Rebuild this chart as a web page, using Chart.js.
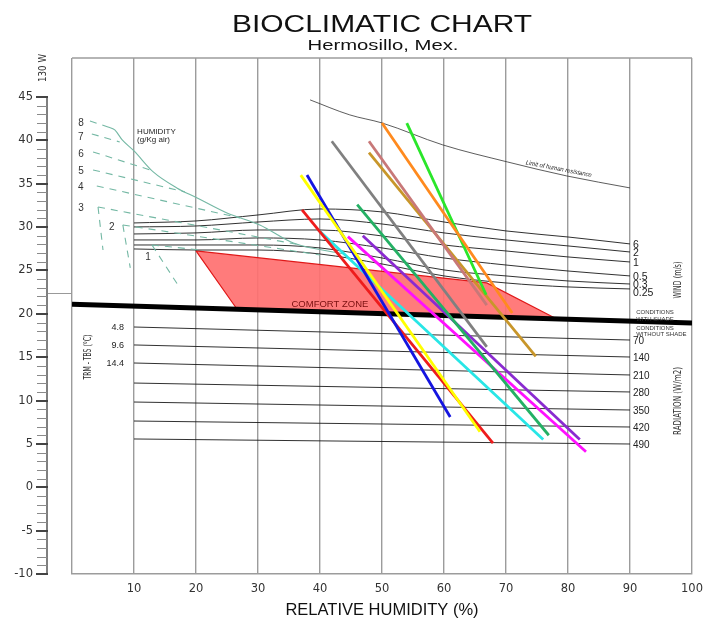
<!DOCTYPE html>
<html>
<head>
<meta charset="utf-8">
<title>Bioclimatic chart - Hermosillo</title>
<script src="https://cdn.jsdelivr.net/npm/chart.js@4.4.1/dist/chart.umd.min.js"></script>
<style>
  html, body { margin: 0; padding: 0; background: #fff; }
  canvas { display: block; }
</style>
</head>
<body>
<canvas id="bioChart" width="703" height="621"></canvas>
<script>
// ---- values ----
const rhTicks = [10, 20, 30, 40, 50, 60, 70, 80, 90, 100];
const tempTicks = [-10, -5, 0, 5, 10, 15, 20, 25, 30, 35, 40, 45];
const tempMarker = 22.4;

// comfort zone (RH %, T C)
const comfortRH = [20.0, 66.9, 78.2, 26.6, 20.0];
const comfortT  = [27.25, 23.56, 19.41, 20.56, 27.25];

// shade / no shade divider
const shadeRH = [0, 100];
const shadeT  = [21.1, 18.95];

// wind (m/s)
const windLabels = ['6', '2', '1', '0.5', '0.3', '0.25'];
const windRH = [10, 20, 30, 40, 50, 60, 70, 80, 90];
const windT = [
  [30.48, 30.71, 31.40, 32.09, 31.75, 30.59, 29.56, 28.86, 28.06],
  [30.02, 30.13, 30.59, 30.94, 30.36, 29.33, 28.52, 27.83, 27.13],
  [29.21, 29.33, 29.67, 29.67, 28.98, 27.94, 27.25, 26.56, 25.98],
  [28.52, 28.52, 28.75, 28.52, 27.60, 26.44, 25.63, 24.94, 24.37],
  [27.94, 27.94, 27.94, 27.60, 26.44, 25.06, 24.37, 23.79, 23.44],
  [27.48, 27.36, 27.36, 26.90, 25.75, 24.37, 23.56, 23.10, 22.87]
];

// radiation (W/m2)
const radLeftLabels = ['4.8', '9.6', '14.4'];
const radLabels = ['70', '140', '210', '280', '350', '420', '490'];
const radRH = [10, 90];
const radStartT = [18.48, 16.41, 14.33, 12.02, 9.83, 7.64, 5.57];
const radEndT   = [16.98, 15.02, 12.95, 10.99, 8.91, 6.95, 4.99];

// limit of human resistance
const limitRH = [38.4, 44.8, 50.0, 59.8, 70.2, 79.8, 90.0];
const limitT  = [44.67, 42.94, 42.01, 39.48, 37.52, 35.90, 34.52];

// humidity (g/Kg air)
const humCurveRH = [5.8, 6.9, 8.1, 10.0, 13.1, 16.9, 20.2, 25.0, 30.3, 35.7, 44.0];
const humCurveT  = [41.55, 41.21, 40.05, 38.78, 36.36, 34.52, 33.36, 31.63, 30.25, 28.17, 26.9];
const humLabels  = ['8', '7', '6', '5', '4', '3', '2', '1'];
const humStartRH = [2.9, 3.2, 3.4, 3.4, 4.0, 4.2, 8.2, 12.9];
const humStartT  = [42.24, 40.74, 38.67, 36.59, 34.75, 32.32, 30.25, 27.94];
const humEndRH   = [5.8, 7.7, 12.6, 18.2, 27.1, 36.8, 40.0, 20.7];
const humEndT    = [41.55, 39.82, 36.59, 34.06, 31.06, 27.94, 26.79, 27.36];
const humDropRH  = [null, null, null, null, null, 5.0, 9.4, 17.4];
const humDropT   = [null, null, null, null, null, 27.36, 25.29, 22.98];

// monthly lines
const monthColors  = ['#ffff00', '#1414e0', '#ee1c1c', '#808080', '#c87878', '#ff8a1e',
                      '#2ae62a', '#c8962a', '#24b064', '#28e6e6', '#ff10ff', '#8a2ad0'];
const monthStartRH = [36.9, 37.9, 37.1, 41.9, 47.9, 50.0, 54.0, 47.9, 46.0, 39.7, 44.5, 46.9];
const monthStartT  = [36.0, 36.0, 32.0, 39.9, 39.9, 42.0, 42.0, 38.6, 32.6, 29.7, 28.9, 29.0];
const monthEndRH   = [65.8, 61.0, 67.9, 66.9, 66.9, 71.0, 66.8, 74.8, 76.9, 76.0, 82.9, 81.9];
const monthEndT    = [6.4, 8.1, 5.1, 16.2, 21.0, 20.1, 22.2, 15.1, 6.0, 5.5, 4.1, 5.5];

// ---- styles ----
const TEAL = '#74b8a4';
const SANS = '"Liberation Sans", Arial, sans-serif';
const NARROW = '"Liberation Sans Narrow", "DejaVu Sans Condensed", "Liberation Sans", sans-serif';
const TICKFONT = '"DejaVu Sans", sans-serif';

function pts(xs, ys) {
  return xs.map(function(x, i) { return {x: x, y: ys[i]}; });
}

function lineSet(data, color, width, order, extra) {
  var ds = {data: data, borderColor: color, borderWidth: width, showLine: true,
            pointRadius: 0, fill: false, order: order};
  return Object.assign(ds, extra || {});
}

var datasets = [];

// monthly lines on top
for (var i = 0; i < monthColors.length; i++) {
  datasets.push(lineSet([{x: monthStartRH[i], y: monthStartT[i]}, {x: monthEndRH[i], y: monthEndT[i]}],
    monthColors[i], 2.8, 1));
}

datasets.push(lineSet(pts(shadeRH, shadeT), '#000', 5, 3));

for (var w = 0; w < windT.length; w++) {
  datasets.push(lineSet(pts(windRH, windT[w]), '#1a1a1a', 0.9, 10, {cubicInterpolationMode: 'monotone'}));
}
for (var r = 0; r < radStartT.length; r++) {
  datasets.push(lineSet(pts(radRH, [radStartT[r], radEndT[r]]), '#1a1a1a', 0.9, 10));
}
datasets.push(lineSet(pts(limitRH, limitT), '#333', 0.8, 10, {cubicInterpolationMode: 'monotone'}));

datasets.push(lineSet(pts(humCurveRH, humCurveT), TEAL, 1.1, 9, {cubicInterpolationMode: 'monotone'}));
for (var h = 0; h < humLabels.length; h++) {
  datasets.push(lineSet([{x: humStartRH[h], y: humStartT[h]}, {x: humEndRH[h], y: humEndT[h]}],
    TEAL, 1.1, 9, {borderDash: [7, 6]}));
  if (humDropRH[h] !== null) {
    datasets.push(lineSet([{x: humStartRH[h], y: humStartT[h]}, {x: humDropRH[h], y: humDropT[h]}],
      TEAL, 1.1, 9, {borderDash: [7, 6]}));
  }
}

// comfort zone underneath everything
datasets.push(lineSet(pts(comfortRH, comfortT), '#e01818', 1.2, 20,
  {fill: 'shape', backgroundColor: 'rgba(255,112,112,0.92)'}));

// text helper: optional rotation and horizontal stretch to a width
function put(c, text, x, y, font, o) {
  o = o || {};
  c.save();
  c.translate(x, y);
  if (o.rot) c.rotate(o.rot);
  c.font = font;
  c.fillStyle = o.color || '#222';
  c.textAlign = o.align || 'center';
  c.textBaseline = o.base || 'middle';
  if (o.width) {
    var tw = c.measureText(text).width;
    c.scale(o.width / tw, 1);
  }
  c.fillText(text, 0, 0);
  c.restore();
}

// frame top line + separate temperature axis on the left
const tempAxis = {
  id: 'tempAxis',
  beforeDatasetsDraw: function(chart) {
    var c = chart.ctx, a = chart.chartArea;
    c.save();
    c.strokeStyle = '#9c9c9c';
    c.lineWidth = 1.4;
    c.beginPath(); c.moveTo(a.left, a.top); c.lineTo(a.right, a.top); c.stroke();
    c.restore();
  },
  afterDraw: function(chart) {
    var c = chart.ctx, ys = chart.scales.y, a = chart.chartArea;
    var ax = a.left - 25;
    var lo = tempTicks[0], hi = tempTicks[tempTicks.length - 1];
    c.save();
    c.strokeStyle = '#555';
    c.lineWidth = 1.5;
    c.beginPath(); c.moveTo(ax, ys.getPixelForValue(hi)); c.lineTo(ax, ys.getPixelForValue(lo)); c.stroke();
    c.strokeStyle = '#8a8a8a';
    c.lineWidth = 1;
    for (var v = lo; v <= hi; v++) {
      if (tempTicks.indexOf(v) >= 0) continue;
      var py = Math.round(ys.getPixelForValue(v)) + 0.5;
      c.beginPath(); c.moveTo(ax - 10, py); c.lineTo(ax, py); c.stroke();
    }
    c.strokeStyle = '#444';
    c.lineWidth = 2;
    tempTicks.forEach(function(t) {
      var py = Math.round(ys.getPixelForValue(t));
      c.beginPath(); c.moveTo(ax - 11, py); c.lineTo(ax + 1, py); c.stroke();
      put(c, String(t), ax - 14, py, '11.5px ' + TICKFONT, {align: 'right', color: '#333'});
    });
    // marker line
    c.strokeStyle = '#999';
    c.lineWidth = 1;
    var my = Math.round(ys.getPixelForValue(tempMarker)) + 0.5;
    c.beginPath(); c.moveTo(ax + 1, my); c.lineTo(a.left, my); c.stroke();
    c.restore();
  }
};

const labels = {
  id: 'labels',
  afterDraw: function(chart) {
    var c = chart.ctx, xs = chart.scales.x, ys = chart.scales.y, a = chart.chartArea;
    var cx = (a.left + a.right) / 2;
    put(c, 'BIOCLIMATIC CHART', cx, 32, '24px ' + SANS, {base: 'alphabetic', color: '#111', width: 300});
    put(c, 'Hermosillo, Mex.', cx + 1, 50, '15px ' + SANS, {base: 'alphabetic', color: '#111', width: 151});

    put(c, '130 W', a.left - 29, 68, '10px ' + NARROW, {rot: -Math.PI / 2, width: 28, color: '#333'});
    put(c, 'TRM - TBS (\u00b0C)', a.left + 16, 357, '10px ' + NARROW, {rot: -Math.PI / 2, width: 45, color: '#333'});
    put(c, 'WIND (m/s)', a.right - 14, 280, '10.5px ' + NARROW, {rot: -Math.PI / 2, width: 37, color: '#333'});
    put(c, 'RADIATION (W/m2)', a.right - 14, 401, '10.5px ' + NARROW, {rot: -Math.PI / 2, width: 68, color: '#333'});

    var rx = xs.getPixelForValue(90) + 3;
    windLabels.forEach(function(t, i) {
      var last = windT[i][windT[i].length - 1];
      put(c, t, rx, ys.getPixelForValue(last) + (i === 5 ? 4 : 1), '10.5px ' + SANS, {align: 'left', color: '#222'});
    });
    radLabels.forEach(function(t, i) {
      put(c, t, rx, ys.getPixelForValue(radEndT[i]) + 1, '10px ' + SANS, {align: 'left', color: '#222'});
    });
    var lx = xs.getPixelForValue(radRH[0]) - 10;
    radLeftLabels.forEach(function(t, i) {
      put(c, t, lx, ys.getPixelForValue(radStartT[i]) + 1, '9px ' + SANS, {align: 'right', color: '#222'});
    });

    // shade conditions
    var sy = ys.getPixelForValue(shadeT[0] + (shadeT[1] - shadeT[0]) * 0.9);
    var sx = xs.getPixelForValue(91);
    put(c, 'CONDITIONS', sx, sy - 9, '6px ' + SANS, {align: 'left', color: '#333'});
    put(c, 'WITH SHADE', sx, sy - 2, '6px ' + SANS, {align: 'left', color: '#333'});
    put(c, 'CONDITIONS', sx, sy + 7, '6px ' + SANS, {align: 'left', color: '#333'});
    put(c, 'WITHOUT SHADE', sx, sy + 13, '6px ' + SANS, {align: 'left', color: '#333'});

    put(c, 'COMFORT ZONE', xs.getPixelForValue(41.6), ys.getPixelForValue(21.1), '9.5px ' + SANS, {color: '#7a1010'});
    put(c, 'Limit of human resistance', xs.getPixelForValue(78.5), ys.getPixelForValue(36.7),
      'italic 6.5px ' + SANS, {rot: 0.19, color: '#222', width: 67});

    // humidity labels
    var hdx = [-9, -11, -12, -12, -16, -17, -11, -4];
    var hdy = [2, 3, 2, 1, 1, 1, 2, 12];
    humLabels.forEach(function(t, i) {
      put(c, t, xs.getPixelForValue(humStartRH[i]) + hdx[i], ys.getPixelForValue(humStartT[i]) + hdy[i],
        '10px ' + SANS, {color: '#333'});
    });
    var hx = xs.getPixelForValue(10.5), hy = ys.getPixelForValue(40.5);
    put(c, 'HUMIDITY', hx, hy - 4, '8px ' + SANS, {align: 'left', color: '#222'});
    put(c, '(g/Kg air)', hx, hy + 4, '8px ' + SANS, {align: 'left', color: '#222'});
  }
};

new Chart(document.getElementById('bioChart'), {
  type: 'scatter',
  data: {datasets: datasets},
  options: {
    responsive: false,
    animation: false,
    devicePixelRatio: 1,
    layout: {padding: {left: 72, right: 11, top: 58, bottom: 0}},
    plugins: {legend: {display: false}, tooltip: {enabled: false}, title: {display: false}},
    scales: {
      x: {
        type: 'linear', min: 0, max: 100,
        ticks: {
          stepSize: 10, padding: 8, color: '#333',
          font: {family: TICKFONT, size: 11.5},
          callback: function(v) { return rhTicks.indexOf(v) >= 0 ? v : ''; }
        },
        grid: {color: '#9c9c9c', lineWidth: 1.4, drawTicks: false},
        border: {display: true, color: '#9c9c9c', width: 1.4},
        title: {display: true, text: 'RELATIVE HUMIDITY (%)', color: '#111',
                font: {family: SANS, size: 16.5}, padding: {top: 4, bottom: 1}},
        afterFit: function(s) { s.height = 47; s.paddingLeft = 0; s.paddingRight = 0; }
      },
      y: {type: 'linear', display: false, min: -10, max: 49.5}
    }
  },
  plugins: [tempAxis, labels]
});
</script>
</body>
</html>
